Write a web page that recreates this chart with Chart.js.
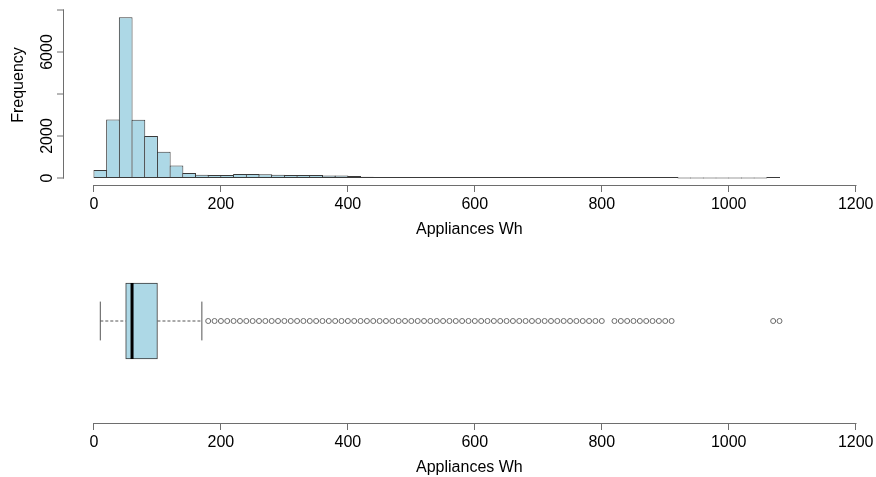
<!DOCTYPE html>
<html>
<head>
<meta charset="utf-8">
<script src="https://cdn.jsdelivr.net/npm/chart.js@4/dist/chart.umd.min.js"></script>
<style>
html,body{margin:0;padding:0;background:#ffffff;}
#wrap{position:relative;width:876px;height:477px;overflow:hidden;}
#wrap canvas{position:absolute;left:0;}
#hist{top:-20px;}
#box{top:0;}
</style>
</head>
<body>
<div id="wrap">
<canvas id="hist" width="876" height="497"></canvas>
<canvas id="box" width="876" height="477"></canvas>
</div>
<script>
// ---------- data ----------
const binWidth = 20;
const binStarts = [0,20,40,60,80,100,120,140,160,180,200,220,240,260,280,300,320,340,360,380,
  400,420,440,460,480,500,520,540,560,580,600,620,640,660,680,700,720,740,760,780,
  800,820,840,860,880,900,920,940,960,980,1000,1020,1040,1060];
const binCounts = [380,2780,7650,2770,2000,1250,590,240,150,145,140,190,190,180,150,145,145,140,120,115,
  95,60,45,40,40,30,25,20,15,40,35,15,12,10,10,8,4,18,6,4,
  2,3,3,3,2,1,0,0,0,0,0,0,0,2];

const boxStats = [10, 50, 60, 100, 170]; // lower whisker, Q1, median, Q3, upper whisker
const outliers = [180,190,200,210,220,230,240,250,260,270,280,290,300,310,320,330,340,350,360,370,
  380,390,400,410,420,430,440,450,460,470,480,490,500,510,520,530,540,550,560,570,
  580,590,600,610,620,630,640,650,660,670,680,690,700,710,720,730,740,750,760,770,
  780,790,800,820,830,840,850,860,870,880,890,900,910,1070,1080];

const xTicks = [0,200,400,600,800,1000,1200];
const xTickLabels = ['0','200','400','600','800','1000','1200'];
const yTicks = [0,2000,4000,6000,8000];
const yTickLabels = ['0','2000','','6000',''];
const xTitle = 'Appliances Wh';
const yTitle = 'Frequency';

// ---------- style ----------
Chart.defaults.font.family = "'Liberation Sans', Arial, Helvetica, sans-serif";
Chart.defaults.font.size = 16;
Chart.defaults.color = '#000000';
const AXIS_COL = '#6e6e6e';
const FILL = '#add8e6';
const EDGE = '#3a3a3a';

const rAxisLines = {
  id: 'rAxisLines',
  afterDraw(chart, args, opts) {
    const ctx = chart.ctx;
    ctx.save();
    ctx.strokeStyle = AXIS_COL;
    ctx.lineWidth = 1;
    const xs = chart.scales.x;
    const yy = Math.round(xs.top) + 0.5;
    ctx.beginPath();
    ctx.moveTo(Math.round(xs.getPixelForValue(xTicks[0])) - 0.5, yy);
    ctx.lineTo(Math.round(xs.getPixelForValue(xTicks[xTicks.length - 1])) + 0.5, yy);
    ctx.stroke();
    if (opts && opts.yAxis) {
      const ys = chart.scales.y;
      const xx = Math.round(ys.right) - 0.5;
      ctx.beginPath();
      ctx.moveTo(xx, ys.getPixelForValue(yTicks[0]) + 0.5);
      ctx.lineTo(xx, ys.getPixelForValue(yTicks[yTicks.length - 1]) - 0.5);
      ctx.stroke();
    }
    ctx.restore();
  }
};

function xScaleOptions() {
  return {
    type: 'linear',
    min: -47.2,
    max: 1230,
    offset: false,
    afterBuildTicks: (s) => { s.ticks = xTicks.map(v => ({ value: v })); },
    afterFit: (s) => { s.height = 54; },
    ticks: {
      autoSkip: false,
      maxRotation: 0,
      minRotation: 0,
      padding: 2.5,
      color: '#000',
      callback: (v, i) => xTickLabels[i]
    },
    grid: {
      display: true,
      offset: false,
      drawOnChartArea: false,
      drawTicks: true,
      tickLength: 7,
      tickColor: AXIS_COL,
      color: AXIS_COL,
      lineWidth: 1
    },
    border: { display: false },
    title: {
      display: true,
      text: xTitle,
      color: '#000',
      font: { size: 16 },
      padding: { top: 0, bottom: 0 }
    }
  };
}

// ---------- histogram ----------
new Chart(document.getElementById('hist'), {
  type: 'bar',
  data: {
    datasets: [{
      data: binStarts.map((s, i) => ({ x: s + binWidth / 2, y: binCounts[i] })),
      backgroundColor: FILL,
      borderColor: EDGE,
      borderWidth: 1,
      borderSkipped: false,
      barPercentage: 1.08,
      categoryPercentage: 1,
      minBarLength: 1
    }]
  },
  options: {
    responsive: false,
    animation: false,
    events: [],
    layout: { autoPadding: false, padding: { top: 5, left: 0, right: 1, bottom: 238 } },
    plugins: { legend: { display: false }, tooltip: { enabled: false }, rAxisLines: { yAxis: true } },
    scales: {
      x: xScaleOptions(),
      y: {
        type: 'linear',
        min: -333.3,
        max: 9190.5,
        afterBuildTicks: (s) => { s.ticks = yTicks.map(v => ({ value: v })); },
        afterFit: (s) => { s.width = 64; s.paddingTop = 0; s.paddingBottom = 0; },
        ticks: {
          autoSkip: false,
          minRotation: 90,
          maxRotation: 90,
          crossAlign: 'center',
          padding: -8,
          color: '#000',
          callback: (v, i) => yTickLabels[i]
        },
        grid: {
          display: true,
          drawOnChartArea: false,
          drawTicks: true,
          tickLength: 7,
          lineWidth: 0,
          tickWidth: 1,
          tickColor: AXIS_COL,
          color: AXIS_COL
        },
        border: { display: false },
        title: {
          display: true,
          text: yTitle,
          color: '#000',
          font: { size: 16 },
          padding: { top: 9.4, bottom: 0 }
        }
      }
    }
  },
  plugins: [rAxisLines]
});

// ---------- boxplot ----------
new Chart(document.getElementById('box'), {
  type: 'scatter',
  data: {
    datasets: [
      { // median
        type: 'scatter',
        data: [{ x: boxStats[2], y: 0 }],
        pointStyle: 'line', rotation: 90, radius: 38, borderWidth: 3,
        borderColor: '#000', backgroundColor: '#000', order: 0
      },
      { // whisker caps
        type: 'scatter',
        data: [{ x: boxStats[0], y: 0 }, { x: boxStats[4], y: 0 }],
        pointStyle: 'line', rotation: 90, radius: 19.4, borderWidth: 1,
        borderColor: '#555', backgroundColor: '#555', order: 1
      },
      { // outliers
        type: 'scatter',
        data: outliers.map(v => ({ x: v, y: 0 })),
        pointStyle: 'circle', radius: 2.5, borderWidth: 1,
        borderColor: '#6a6a6a', backgroundColor: 'rgba(0,0,0,0)', order: 2
      },
      { // lower whisker
        type: 'line',
        data: [{ x: boxStats[0], y: 0 }, { x: boxStats[1], y: 0 }],
        borderColor: '#555', borderWidth: 1, borderDash: [3, 2], pointRadius: 0, fill: false, order: 3
      },
      { // upper whisker
        type: 'line',
        data: [{ x: boxStats[3], y: 0 }, { x: boxStats[4], y: 0 }],
        borderColor: '#555', borderWidth: 1, borderDash: [3, 2], pointRadius: 0, fill: false, order: 3
      },
      { // box
        type: 'bar',
        indexAxis: 'y',
        data: [{ x: [boxStats[1], boxStats[3]], y: 0 }],
        backgroundColor: FILL,
        borderColor: EDGE,
        borderWidth: 1,
        borderSkipped: false,
        barThickness: 76,
        order: 4
      }
    ]
  },
  options: {
    responsive: false,
    animation: false,
    events: [],
    layout: { autoPadding: false, padding: { top: 219, left: 64, right: 1, bottom: 0 } },
    plugins: { legend: { display: false }, tooltip: { enabled: false }, rAxisLines: { yAxis: false } },
    scales: {
      x: xScaleOptions(),
      y: { type: 'linear', min: -1, max: 1, display: false }
    }
  },
  plugins: [rAxisLines]
});
</script>
</body>
</html>
